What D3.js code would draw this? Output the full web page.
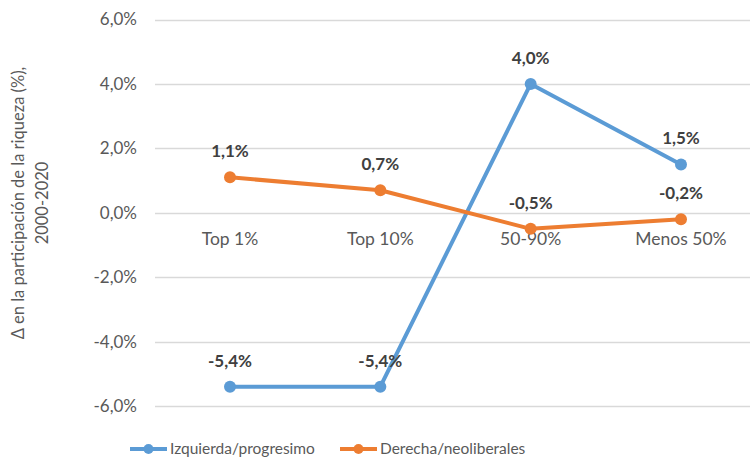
<!DOCTYPE html>
<html>
<head>
<meta charset="utf-8">
<script src="https://cdn.jsdelivr.net/npm/d3@7"></script>
<style>
  body { margin: 0; background: #fff; }
  text { font-family: Lato, "Open Sans", sans-serif; }
</style>
</head>
<body>
<div id="chart"></div>
<script>
const categories = ["Top 1%", "Top 10%", "50-90%", "Menos 50%"];
const izquierda = [-5.4, -5.4, 4.0, 1.5];
const derecha = [1.1, 0.7, -0.5, -0.2];
const yTicks = [-6, -4, -2, 0, 2, 4, 6];
const seriesNames = ["Izquierda/progresimo", "Derecha/neoliberales"];

const width = 750, height = 458;
const fmt = v => v.toFixed(1).replace(".", ",") + "%";

const svg = d3.select("#chart").append("svg")
    .attr("width", width)
    .attr("height", height);

// plot area (runs a bit past the right edge, like the original)
const x = d3.scalePoint().domain(categories).range([230, 681]);
const y = d3.scaleLinear().domain([-6, 6]).range([406, 19.5]);

// gridlines
svg.append("g")
    .selectAll("line")
    .data(yTicks)
    .enter().append("line")
    .attr("x1", 155)
    .attr("x2", width)
    .attr("y1", d => Math.round(y(d)) + 0.5)
    .attr("y2", d => Math.round(y(d)) + 0.5)
    .attr("stroke", "#d9d9d9")
    .attr("stroke-width", 1.3);

// y tick labels
svg.append("g")
    .selectAll("text")
    .data(yTicks)
    .enter().append("text")
    .attr("x", 137)
    .attr("y", d => y(d))
    .attr("dy", "0.35em")
    .attr("text-anchor", "end")
    .attr("fill", "#595959")
    .style("font-size", "17px")
    .text(d => fmt(d));

// category labels just under the zero line
svg.append("g")
    .selectAll("text")
    .data(categories)
    .enter().append("text")
    .attr("x", d => x(d))
    .attr("y", y(0) + 26)
    .attr("dy", "0.35em")
    .attr("text-anchor", "middle")
    .attr("fill", "#595959")
    .style("font-size", "17.5px")
    .text(d => d);

// y axis title
const title = svg.append("text")
    .attr("transform", "translate(0,203) rotate(-90)")
    .attr("text-anchor", "middle")
    .attr("fill", "#595959")
    .style("font-size", "16.5px");
title.append("tspan").attr("x", 0).attr("y", 24).text("Δ en la participación de la riqueza (%),");
title.append("tspan").attr("x", 0).attr("y", 48).text("2000-2020");

const series = [
    {name: seriesNames[0], values: izquierda, color: "#5b9bd5"},
    {name: seriesNames[1], values: derecha, color: "#ed7d31"}
];

const line = d3.line()
    .x((d, i) => x(categories[i]))
    .y(d => y(d));

series.forEach(s => {
    svg.append("path")
        .datum(s.values)
        .attr("fill", "none")
        .attr("stroke", s.color)
        .attr("stroke-width", 4)
        .attr("stroke-linejoin", "round")
        .attr("d", line);
    svg.append("g")
        .selectAll("circle")
        .data(s.values)
        .enter().append("circle")
        .attr("cx", (d, i) => x(categories[i]))
        .attr("cy", d => y(d))
        .attr("r", 6)
        .attr("fill", s.color);
    svg.append("g")
        .selectAll("text")
        .data(s.values)
        .enter().append("text")
        .attr("x", (d, i) => x(categories[i]))
        .attr("y", d => y(d) - 26)
        .attr("dy", "0.35em")
        .attr("text-anchor", "middle")
        .attr("fill", "#404040")
        .style("font-size", "17px")
        .style("font-weight", "bold")
        .text(d => fmt(d));
});

// legend
const legendX = [130, 340];
series.forEach((s, i) => {
    const g = svg.append("g").attr("transform", "translate(" + legendX[i] + ",449)");
    g.append("line").attr("x1", 0).attr("x2", 37)
        .attr("stroke", s.color).attr("stroke-width", 4);
    g.append("circle").attr("cx", 18.5).attr("r", 5).attr("fill", s.color);
    g.append("text").attr("x", 40).attr("dy", "0.35em")
        .attr("fill", "#595959")
        .style("font-size", "15.5px")
        .text(s.name);
});
</script>
</body>
</html>
